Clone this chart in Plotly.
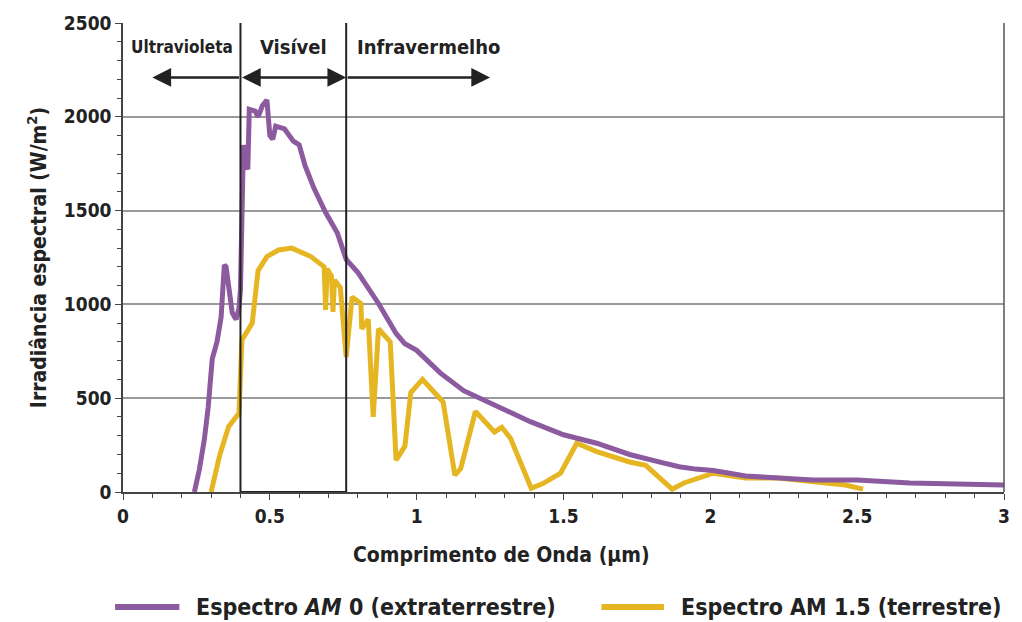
import plotly.graph_objects as go

# AM0 (extraterrestrial) spectrum
am0_x = [0.243, 0.26, 0.277, 0.29, 0.304, 0.32, 0.334, 0.345, 0.351, 0.36, 0.372, 0.385, 0.395, 0.40,
         0.41, 0.415, 0.425, 0.43, 0.45, 0.46, 0.475, 0.49, 0.50, 0.51, 0.52, 0.55, 0.58, 0.60, 0.62,
         0.65, 0.69, 0.73, 0.76, 0.80, 0.87, 0.93, 0.96, 1.0, 1.05, 1.08, 1.16, 1.275, 1.387, 1.5,
         1.613, 1.725, 1.78, 1.839, 1.894, 1.95, 2.01, 2.12, 2.35, 2.5, 2.68, 3.0]
am0_y = [0, 120, 280, 450, 710, 800, 930, 1210, 1200, 1100, 955, 920, 980, 1080,
         1850, 1760, 1720, 2040, 2030, 2000, 2060, 2090, 1900, 1880, 1950, 1935, 1870, 1850, 1740,
         1620, 1490, 1380, 1240, 1170, 1005, 845, 790, 755, 685, 635, 540, 455, 375, 305,
         260, 200, 175, 155, 135, 122, 115, 85, 64, 64, 48, 37]

# AM1.5 (terrestrial) spectrum
am15_x = [0.30, 0.33, 0.36, 0.395, 0.405, 0.44, 0.46, 0.49, 0.53, 0.575, 0.64, 0.685, 0.69, 0.695,
          0.71, 0.715, 0.72, 0.74, 0.76, 0.78, 0.81, 0.813, 0.835, 0.852, 0.87, 0.91, 0.93, 0.96,
          0.98, 1.02, 1.09, 1.13, 1.15, 1.2, 1.265, 1.29, 1.32, 1.39, 1.43, 1.49, 1.545, 1.613,
          1.725, 1.78, 1.87, 1.91, 2.01, 2.12, 2.23, 2.35, 2.46, 2.52]
am15_y = [0, 200, 350, 420, 810, 900, 1180, 1255, 1290, 1300, 1255, 1200, 970, 1190,
          1150, 960, 1130, 1090, 720, 1040, 1005, 870, 920, 400, 870, 800, 170, 245,
          530, 600, 480, 90, 125, 430, 320, 345, 285, 20, 45, 100, 260, 215,
          160, 142, 15, 48, 100, 75, 75, 56, 37, 15]

x_ticks = [0, 0.5, 1, 1.5, 2, 2.5, 3]
x_tick_labels = ["0", "0.5", "1", "1.5", "2", "2.5", "3"]
y_ticks = [0, 500, 1000, 1500, 2000, 2500]
y_tick_labels = ["0", "500", "1000", "1500", "2000", "2500"]

visible_range = [0.4, 0.76]
uv_arrow_end = 0.1
ir_arrow_end = 1.25
legend_names = ["Espectro <i>AM</i> 0 (extraterrestre)", "Espectro AM 1.5 (terrestre)"]
colors = ["#8c5a9e", "#e5b522"]

FONT = "DejaVu Sans Condensed, Liberation Sans Narrow, Arial Narrow, sans-serif"

fig = go.Figure()
fig.add_trace(go.Scatter(x=am15_x, y=am15_y, mode="lines", line=dict(color=colors[1], width=5),
                         showlegend=False))
fig.add_trace(go.Scatter(x=am0_x, y=am0_y, mode="lines", line=dict(color=colors[0], width=5),
                         showlegend=False))

# visible box
fig.add_shape(type="rect", x0=visible_range[0], x1=visible_range[1], y0=0, y1=2510,
              xref="x", yref="y", line=dict(color="#222", width=2), layer="above")
# right frame
fig.add_shape(type="line", x0=1, x1=1, y0=0, y1=1, xref="paper", yref="paper",
              line=dict(color="#555", width=1.5))

arrow_y = 2210
text_y = 2370
arrow_style = dict(xref="x", yref="y", axref="x", ayref="y", showarrow=True, arrowhead=2,
                   arrowsize=1.5, arrowwidth=2.5, arrowcolor="#222", text="")
fig.add_annotation(x=uv_arrow_end, y=arrow_y, ax=visible_range[0], ay=arrow_y, **arrow_style)
fig.add_annotation(x=visible_range[1], y=arrow_y, ax=visible_range[0], ay=arrow_y,
                   startarrowhead=2, arrowside="end+start", startarrowsize=1.5, **arrow_style)
fig.add_annotation(x=ir_arrow_end, y=arrow_y, ax=visible_range[1], ay=arrow_y, **arrow_style)

fig.add_annotation(x=0.2, y=text_y, xref="x", yref="y", text="<b>Ultravioleta</b>", showarrow=False,
                   font=dict(family=FONT, size=17, color="#222"))
fig.add_annotation(x=0.58, y=text_y, xref="x", yref="y", text="<b>Visível</b>", showarrow=False,
                   font=dict(family=FONT, size=20, color="#222"))
fig.add_annotation(x=0.79, y=text_y, xref="x", yref="y", text="<b>Infravermelho</b>", showarrow=False,
                   xanchor="left", font=dict(family=FONT, size=20, color="#222"))

# x axis title (off-centre in the reference)
fig.add_annotation(x=0.43, y=-0.105, xref="paper", yref="paper", yanchor="top", showarrow=False,
                   text="<b>Comprimento de Onda (µm)</b>", font=dict(family=FONT, size=21, color="#222"))

# manual legend
leg_y = -0.245
for name, col, x0, x1 in zip(legend_names, colors, [-0.009, 0.543], [0.064, 0.614]):
    fig.add_shape(type="line", x0=x0, x1=x1, y0=leg_y, y1=leg_y, xref="paper", yref="paper",
                  line=dict(color=col, width=6))
    fig.add_annotation(x=x1 + 0.017, y=leg_y, xref="paper", yref="paper", text="<b>" + name + "</b>",
                       showarrow=False, xanchor="left", yanchor="middle",
                       font=dict(family=FONT, size=23, color="#222"))

fig.update_layout(
    width=1022, height=622,
    margin=dict(l=123, r=12, t=23, b=130),
    plot_bgcolor="white", paper_bgcolor="white",
    font=dict(family=FONT, color="#222"),
    xaxis=dict(range=[0, 3], tickvals=x_ticks, ticktext=["<b>%s</b>" % t for t in x_tick_labels],
               showgrid=False, zeroline=False, showline=True, linecolor="#444", linewidth=1.5,
               ticks="outside", ticklen=6, tickcolor="#444",
               minor=dict(dtick=0.1, ticks="outside", ticklen=4, tickcolor="#444"),
               tickfont=dict(size=19, family=FONT)),
    yaxis=dict(range=[0, 2500], tickvals=y_ticks, ticktext=["<b>%s</b>" % t for t in y_tick_labels],
               showgrid=True, gridcolor="#9a9a9a", gridwidth=1.5, zeroline=False,
               showline=True, linecolor="#444", linewidth=1.5,
               ticks="outside", ticklen=6, tickcolor="#444",
               minor=dict(dtick=100, ticks="outside", ticklen=4, tickcolor="#444", showgrid=False),
               tickfont=dict(size=19, family=FONT),
               title=dict(text="<b>Irradiância espectral (W/m<sup>2</sup>)</b>",
                          font=dict(size=21, family=FONT), standoff=12)),
)

fig.write_html("out.html")
